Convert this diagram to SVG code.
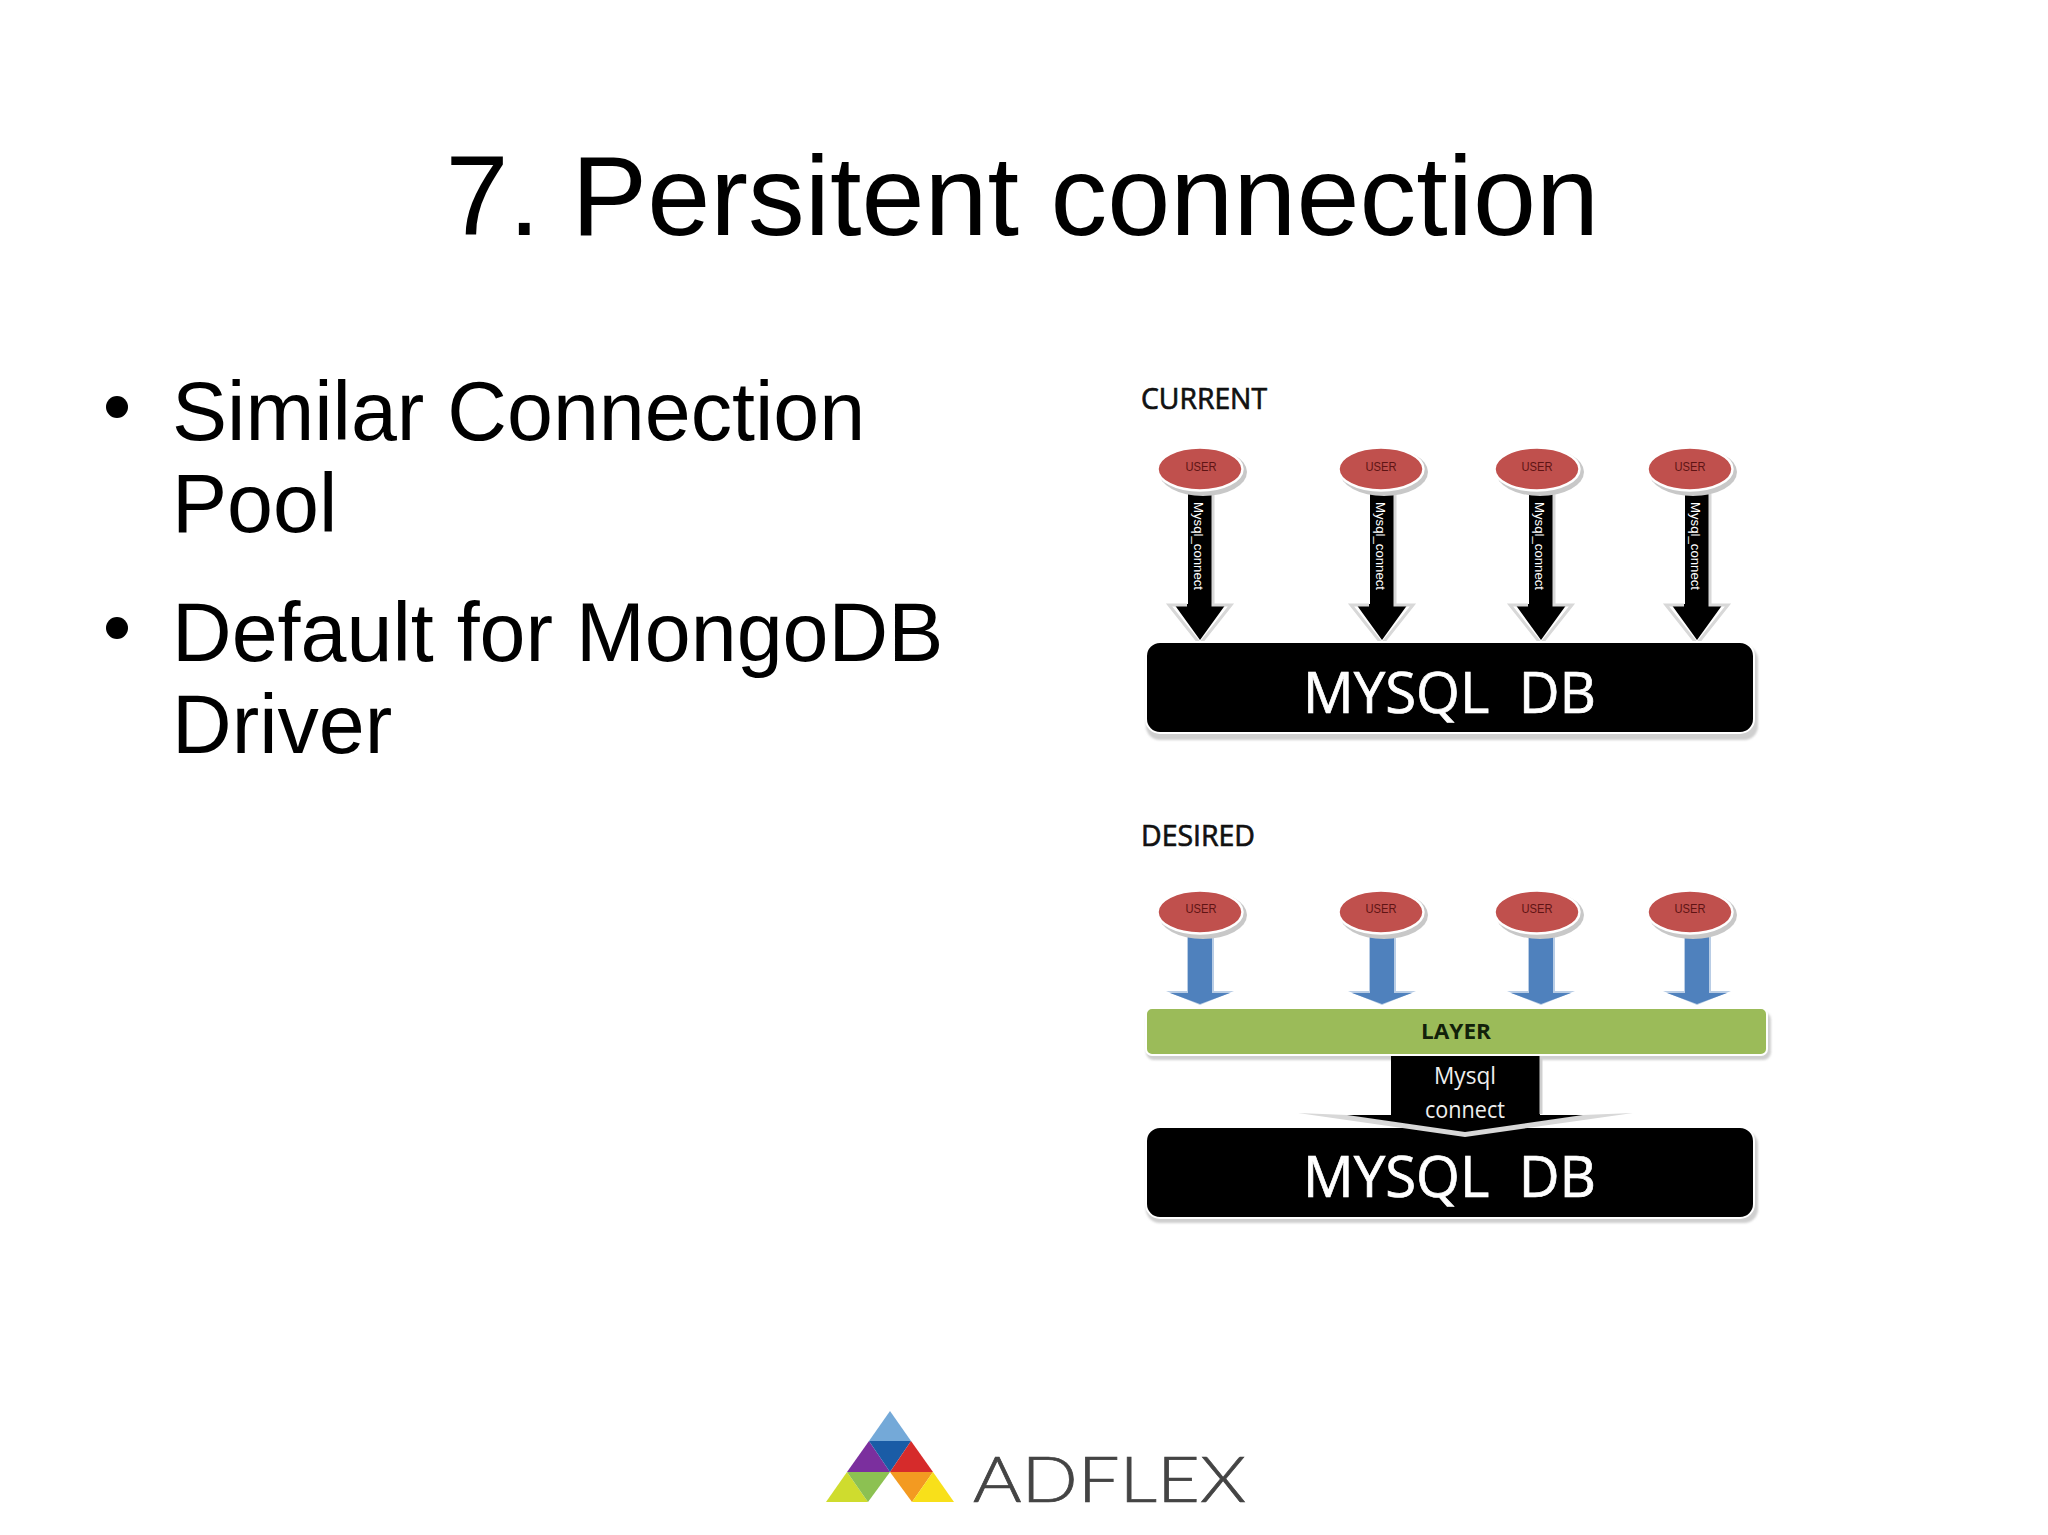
<svg xmlns="http://www.w3.org/2000/svg" width="2048" height="1535" viewBox="0 0 2048 1535">
<defs>
<filter id="soft" x="-10%" y="-10%" width="120%" height="120%"><feGaussianBlur stdDeviation="0.6"/></filter>
<filter id="shade" x="-10%" y="-30%" width="120%" height="160%"><feGaussianBlur stdDeviation="1.2"/></filter>
</defs>
<style>
text{font-family:"Liberation Sans",Arial,sans-serif}
.title{font-size:113.4px;fill:#000}
.body{font-size:82.6px;fill:#000}
.cal{font-family:"Open Sans","Noto Sans",sans-serif}
.head{font-size:29px;fill:#111;stroke:#111;stroke-width:.7}
.db{font-size:57px;fill:#fff;stroke:#fff;stroke-width:.7;white-space:pre}
.user{font-size:13px;fill:#5e1414;text-anchor:middle}
.vert{font-size:13px;fill:#fff}
.ell{fill:#c0504d;stroke:#fff;stroke-width:2.5}
.ellsh{fill:#c8c8c8}
.bar{fill:#000;stroke:#fff;stroke-width:2}
.barsh{fill:#cfcfcf}
.wing{fill:none;stroke:#d8d8d8;stroke-width:3}
.blue{fill:#4f81bd}
.pale{fill:#b9cde5}
</style>
<rect width="2048" height="1535" fill="#fff"/>
<text class="title" x="445.5" y="235">7. Persitent connection</text>
<g id="bullets">
<circle cx="117" cy="407" r="11"/><circle cx="117" cy="628" r="11"/>
<text class="body" x="172" y="440">Similar Connection</text>
<text class="body" x="172" y="532">Pool</text>
<text class="body" x="172" y="661">Default for MongoDB</text>
<text class="body" x="172" y="753">Driver</text>
</g>
<text class="cal head" x="1141" y="409" textLength="126" lengthAdjust="spacingAndGlyphs">CURRENT</text>
<text class="cal head" x="1141" y="846" textLength="114" lengthAdjust="spacingAndGlyphs">DESIRED</text>
<g id="connectors">
<g id="current-arrows">
<g filter="url(#soft)">
<path d="M1188 494h24v110h14l-26 36-26-36h14z" fill="#000"/>
<path class="wing" d="M1213 494v111h18l-31 39-31-39h18"/>
<path d="M1370 494h24v110h14l-26 36-26-36h14z" fill="#000"/>
<path class="wing" d="M1395 494v111h18l-31 39-31-39h18"/>
<path d="M1529 494h24v110h14l-26 36-26-36h14z" fill="#000"/>
<path class="wing" d="M1554 494v111h18l-31 39-31-39h18"/>
<path d="M1685 494h24v110h14l-26 36-26-36h14z" fill="#000"/>
<path class="wing" d="M1710 494v111h18l-31 39-31-39h18"/>
</g>
<text class="vert" transform="translate(1194 502) rotate(90)" textLength="88" lengthAdjust="spacingAndGlyphs">Mysql_connect</text>
<text class="vert" transform="translate(1376 502) rotate(90)" textLength="88" lengthAdjust="spacingAndGlyphs">Mysql_connect</text>
<text class="vert" transform="translate(1535 502) rotate(90)" textLength="88" lengthAdjust="spacingAndGlyphs">Mysql_connect</text>
<text class="vert" transform="translate(1691 502) rotate(90)" textLength="88" lengthAdjust="spacingAndGlyphs">Mysql_connect</text>
</g>
<g id="desired-arrows" filter="url(#soft)">
<path class="pale" d="M1187 936h27v55h20l-34 14-34-14h21z"/>
<path class="blue" d="M1188 936h24v57h18l-30 11-30-11h18z"/>
<path class="pale" d="M1369 936h27v55h20l-34 14-34-14h21z"/>
<path class="blue" d="M1370 936h24v57h18l-30 11-30-11h18z"/>
<path class="pale" d="M1528 936h27v55h20l-34 14-34-14h21z"/>
<path class="blue" d="M1529 936h24v57h18l-30 11-30-11h18z"/>
<path class="pale" d="M1684 936h27v55h20l-34 14-34-14h21z"/>
<path class="blue" d="M1685 936h24v57h18l-30 11-30-11h18z"/>
</g>
</g>
<g id="db-current">
<rect class="barsh" x="1146" y="646" width="612" height="94" rx="14" filter="url(#shade)"/>
<rect class="bar" x="1146" y="642" width="608" height="91" rx="14"/>
<text class="cal db" x="1303" y="713" textLength="293" lengthAdjust="spacingAndGlyphs">MYSQL  DB</text>
</g>
<g id="db-desired">
<rect class="barsh" x="1146" y="1131" width="612" height="92" rx="14" filter="url(#shade)"/>
<rect class="bar" x="1146" y="1127" width="608" height="91" rx="14"/>
<text class="cal db" x="1303" y="1197" textLength="293" lengthAdjust="spacingAndGlyphs">MYSQL  DB</text>
</g>
<g id="layer">
<rect class="barsh" x="1146" y="1012" width="625" height="48" rx="8" filter="url(#shade)"/>
<rect x="1146" y="1008" width="621" height="47" rx="6" fill="#9bbb59" stroke="#fff" stroke-width="2"/>
<text x="1456" y="1039" text-anchor="middle" class="cal" font-size="21" font-weight="700" fill="#12210a" textLength="70" lengthAdjust="spacingAndGlyphs">LAYER</text>
</g>
<g id="mysql-connect">
<path d="M1298 1113L1465 1137 1633 1113 1583 1115 1465 1131 1347 1115z" fill="#d8d8d8" filter="url(#soft)"/>
<path d="M1391 1056h149v59h43l-118 17-118-17h44z" fill="#000"/>
<path d="M1541 1056v58" stroke="#d0d0d0" stroke-width="3" fill="none"/>
<text class="cal" x="1465" y="1084" text-anchor="middle" font-size="24" fill="#eee" textLength="62" lengthAdjust="spacingAndGlyphs">Mysql</text>
<text class="cal" x="1465" y="1118" text-anchor="middle" font-size="24" fill="#eee" textLength="80" lengthAdjust="spacingAndGlyphs">connect</text>
</g>
<g id="user-1"><ellipse class="ellsh" cx="1203" cy="472" rx="44" ry="24"/><ellipse class="ell" cx="1200" cy="469" rx="42.5" ry="21.5"/><text class="user" x="1201" y="471" textLength="31" lengthAdjust="spacingAndGlyphs">USER</text></g>
<g id="user-2"><ellipse class="ellsh" cx="1384" cy="472" rx="44" ry="24"/><ellipse class="ell" cx="1381" cy="469" rx="42.5" ry="21.5"/><text class="user" x="1381" y="471" textLength="31" lengthAdjust="spacingAndGlyphs">USER</text></g>
<g id="user-3"><ellipse class="ellsh" cx="1540" cy="472" rx="44" ry="24"/><ellipse class="ell" cx="1537" cy="469" rx="42.5" ry="21.5"/><text class="user" x="1537" y="471" textLength="31" lengthAdjust="spacingAndGlyphs">USER</text></g>
<g id="user-4"><ellipse class="ellsh" cx="1693" cy="472" rx="44" ry="24"/><ellipse class="ell" cx="1690" cy="469" rx="42.5" ry="21.5"/><text class="user" x="1690" y="471" textLength="31" lengthAdjust="spacingAndGlyphs">USER</text></g>
<g id="user-5"><ellipse class="ellsh" cx="1203" cy="915" rx="44" ry="24"/><ellipse class="ell" cx="1200" cy="912" rx="42.5" ry="21.5"/><text class="user" x="1201" y="913" textLength="31" lengthAdjust="spacingAndGlyphs">USER</text></g>
<g id="user-6"><ellipse class="ellsh" cx="1384" cy="915" rx="44" ry="24"/><ellipse class="ell" cx="1381" cy="912" rx="42.5" ry="21.5"/><text class="user" x="1381" y="913" textLength="31" lengthAdjust="spacingAndGlyphs">USER</text></g>
<g id="user-7"><ellipse class="ellsh" cx="1540" cy="915" rx="44" ry="24"/><ellipse class="ell" cx="1537" cy="912" rx="42.5" ry="21.5"/><text class="user" x="1537" y="913" textLength="31" lengthAdjust="spacingAndGlyphs">USER</text></g>
<g id="user-8"><ellipse class="ellsh" cx="1693" cy="915" rx="44" ry="24"/><ellipse class="ell" cx="1690" cy="912" rx="42.5" ry="21.5"/><text class="user" x="1690" y="913" textLength="31" lengthAdjust="spacingAndGlyphs">USER</text></g>
<g id="logo">
<polygon points="890,1411 869,1441 911,1441" fill="#74a9d8"/>
<polygon points="869,1441 847,1472 890,1472" fill="#7b2f9e"/>
<polygon points="869,1441 911,1441 890,1472" fill="#1a5ca6"/>
<polygon points="911,1441 890,1472 933,1472" fill="#d62b2b"/>
<polygon points="847,1472 826,1502 868,1502" fill="#cfdc2e"/>
<polygon points="847,1472 890,1472 868,1502" fill="#8cc152"/>
<polygon points="890,1472 933,1472 912,1502" fill="#f39a21"/>
<polygon points="933,1472 912,1502 954,1502" fill="#f8e01a"/>
<text x="973" y="1502" font-size="63" style="font-family:Lato,'Open Sans',sans-serif;font-weight:300" fill="#444" stroke="#444" stroke-width=".7" textLength="273" lengthAdjust="spacingAndGlyphs">ADFLEX</text>
</g>
</svg>
